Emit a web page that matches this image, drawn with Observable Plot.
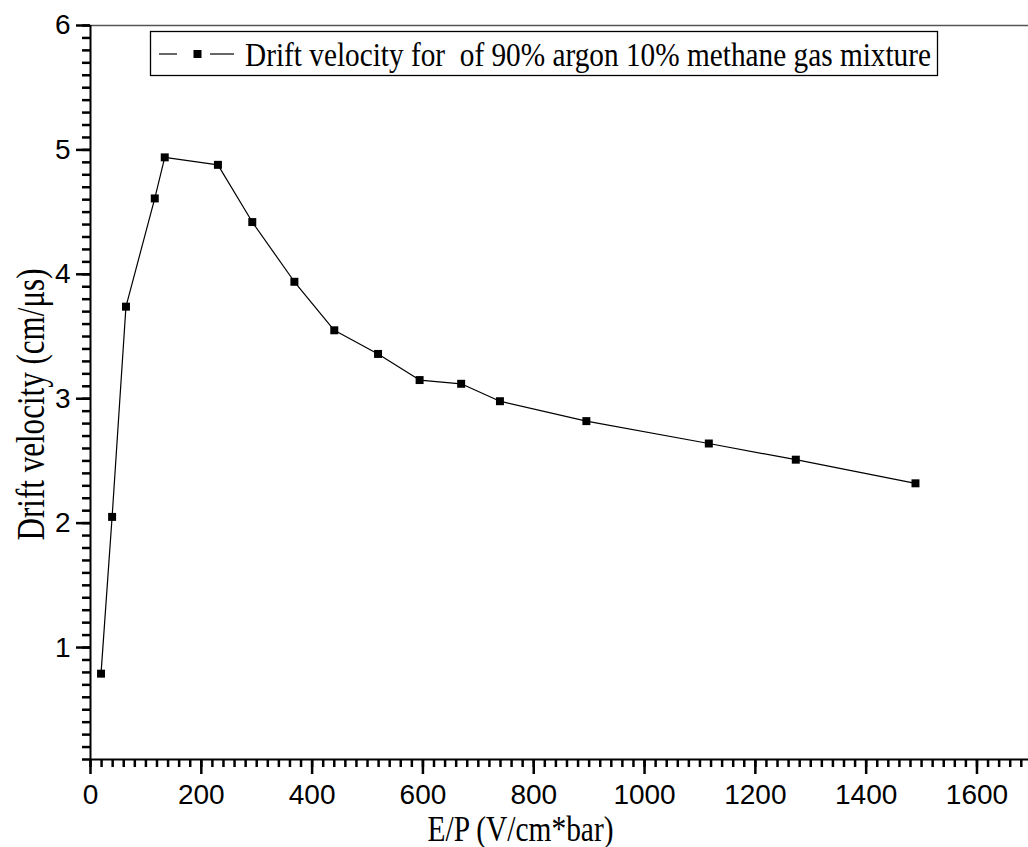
<!DOCTYPE html>
<html>
<head>
<meta charset="utf-8">
<script src="https://cdn.jsdelivr.net/npm/d3@7"></script>
<script src="https://cdn.jsdelivr.net/npm/@observablehq/plot@0.6"></script>
<style>
  body { margin: 0; background: #fff; }
  #chart { width: 1028px; height: 847px; }
</style>
</head>
<body>
<div id="chart"></div>
<script>
// ---- data ----
const epValues = [19, 39, 64, 116, 134, 230, 292, 368, 440, 519, 594, 669, 739, 895, 1116, 1273, 1489];
const driftVelocity = [0.79, 2.05, 3.74, 4.61, 4.94, 4.88, 4.42, 3.94, 3.55, 3.36, 3.15, 3.12, 2.98, 2.82, 2.64, 2.51, 2.32];
const xMajorTicks = [0, 200, 400, 600, 800, 1000, 1200, 1400, 1600];
const yMajorTicks = [1, 2, 3, 4, 5, 6];
const xMinorTicks = d3.range(0, 85).map(i => i * 20);
const yMinorTicks = d3.range(1, 61).map(i => i / 10);
const xLabel = "E/P (V/cm*bar)";
const yLabel = "Drift velocity (cm/μs)";
const legendLabel = "Drift velocity for  of 90% argon 10% methane gas mixture";

const data = epValues.map((x, i) => ({x, y: driftVelocity[i]}));
const serif = "'Liberation Serif', 'Times New Roman', serif";

const plot = Plot.plot({
  width: 1028,
  height: 847,
  marginLeft: 90,
  marginRight: 0,
  marginTop: 25,
  marginBottom: 88,
  style: {fontFamily: "'Liberation Sans', Arial, sans-serif", fontSize: "28px", background: "#fff", color: "#000"},
  x: {domain: [0, 1693]},
  y: {domain: [0.1, 6]},
  marks: [
    Plot.ruleY([6], {stroke: "#555", strokeWidth: 1.5}),
    Plot.axisX({ticks: xMinorTicks, tickSize: 8, strokeWidth: 2, tickFormat: () => "", label: null}),
    Plot.axisX({ticks: xMajorTicks, tickSize: 15, tickPadding: 10, strokeWidth: 2, tickFormat: d => String(d), label: null, fontSize: 28}),
    Plot.axisY({ticks: yMinorTicks, anchor: "left", tickSize: 8, strokeWidth: 2.5, tickFormat: () => "", label: null}),
    Plot.axisY({ticks: yMajorTicks, anchor: "left", tickSize: 14, tickPadding: 6, strokeWidth: 2.5, tickFormat: d => String(d), label: null, fontSize: 28}),
    Plot.ruleX([0], {stroke: "#000", strokeWidth: 2}),
    Plot.ruleY([0.1], {stroke: "#000", strokeWidth: 2}),
    Plot.line(data, {x: "x", y: "y", stroke: "#000", strokeWidth: 1.2}),
    Plot.dot(data, {x: "x", y: "y", symbol: "square", fill: "#000", r: 4.5}),
    Plot.text([xLabel], {text: d => d, frameAnchor: "bottom", textAnchor: "middle", lineAnchor: "bottom", dx: -39, dy: 81, fontFamily: serif, fontSize: 36}),
    Plot.text([yLabel], {text: d => d, frameAnchor: "left", textAnchor: "middle", lineAnchor: "bottom", rotate: -90, dx: -47, dy: 12, fontFamily: serif, fontSize: 40})
  ]
});

const svg = d3.select(plot);
// heavier tick strokes, as in the reference
svg.selectAll("g[aria-label$='tick']").attr("stroke-width", 2.5).attr("stroke", "#000").attr("stroke-opacity", 1);

// condense the serif labels to match the reference widths
svg.selectAll("text").each(function() {
  const t = this.textContent;
  if (t === xLabel) d3.select(this).attr("textLength", 186).attr("lengthAdjust", "spacingAndGlyphs");
  if (t === yLabel) d3.select(this).attr("textLength", 272).attr("lengthAdjust", "spacingAndGlyphs");
});

// legend box inside the frame
const lg = svg.append("g").attr("text-anchor", "start");
lg.append("rect").attr("x", 150.5).attr("y", 31.5).attr("width", 787).attr("height", 44)
  .attr("fill", "#fff").attr("stroke", "#000").attr("stroke-width", 1.3);
lg.append("line").attr("x1", 159).attr("x2", 177).attr("y1", 54).attr("y2", 54).attr("stroke", "#000").attr("stroke-width", 1.2);
lg.append("rect").attr("x", 193.5).attr("y", 50).attr("width", 8).attr("height", 8).attr("fill", "#000");
lg.append("line").attr("x1", 210).attr("x2", 234).attr("y1", 54).attr("y2", 54).attr("stroke", "#000").attr("stroke-width", 1.2);
lg.append("text").attr("x", 245).attr("y", 66)
  .attr("text-anchor", "start")
  .attr("font-family", serif).attr("font-size", 34)
  .attr("xml:space", "preserve")
  .attr("textLength", 686).attr("lengthAdjust", "spacingAndGlyphs")
  .attr("fill", "#000")
  .text(legendLabel);

document.getElementById("chart").appendChild(plot);
</script>
</body>
</html>
